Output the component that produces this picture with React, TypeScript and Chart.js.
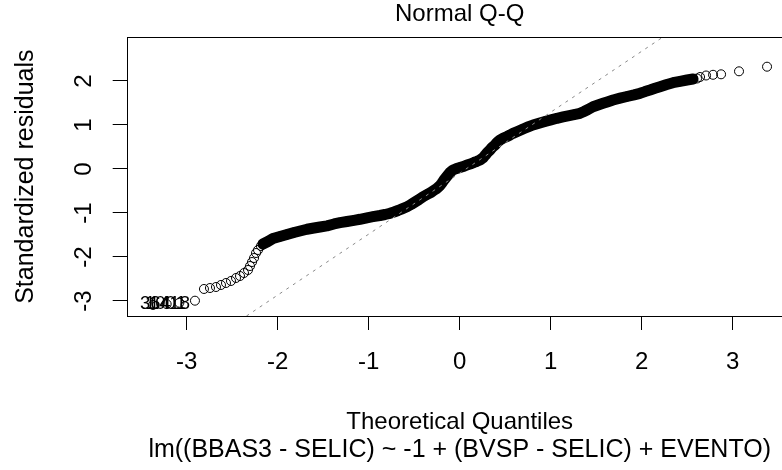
import React, { useEffect, useRef } from "react";
import { Chart, registerables } from "chart.js";

Chart.register(...registerables);

// ---- text ----
const chartTitle = "Normal Q-Q";
const xTitle = "Theoretical Quantiles";
const subTitle = "lm((BBAS3 - SELIC) ~ -1 + (BVSP - SELIC) + EVENTO)";
const yTitle = "Standardized residuals";

// ---- axes ----
const xTicks = [-3, -2, -1, 0, 1, 2, 3];
const xTickLabels = ["-3", "-2", "-1", "0", "1", "2", "3"];
const yTicks = [-3, -2, -1, 0, 1, 2];
const yTickLabels = ["-3", "-2", "-1", "0", "1", "2"];
const xRange = [-3.659, 3.659];
const yRange = [-3.341, 2.993];

// ---- individually visible points in the tails ----
const tailX = [
  -3.37, -3.22, -3.08, -2.909, -2.81, -2.744, -2.678, -2.623, -2.568, -2.513,
  -2.458, -2.414, -2.37, -2.326, -2.304, -2.282, -2.26, -2.238, -2.216, -2.184,
  2.608, 2.641, 2.707, 2.784, 2.872, 3.069, 3.377,
];
const tailY = [
  -3.09, -3.07, -3.04, -2.993, -2.727, -2.705, -2.682, -2.636, -2.591, -2.545,
  -2.477, -2.432, -2.364, -2.295, -2.205, -2.114, -2.023, -1.909, -1.841, -1.75,
  2.057, 2.091, 2.125, 2.141, 2.152, 2.22, 2.325,
];

// ---- dense central band of residuals ----
const bandX = [
  -2.162, -2.107, -2.052, -1.975, -1.898, -1.821, -1.755, -1.678, -1.601, -1.535,
  -1.458, -1.381, -1.315, -1.238, -1.162, -1.096, -1.019, -0.953, -0.876, -0.821,
  -0.766, -0.722, -0.678, -0.634, -0.579, -0.535, -0.491, -0.447, -0.403, -0.359,
  -0.315, -0.282, -0.249, -0.216, -0.195, -0.173, -0.151, -0.129, -0.107, -0.074,
  -0.041, 0.003, 0.047, 0.08, 0.124, 0.157, 0.19, 0.223, 0.256, 0.278,
  0.3, 0.333, 0.355, 0.388, 0.41, 0.443, 0.476, 0.52, 0.553, 0.586,
  0.641, 0.696, 0.751, 0.806, 0.871, 0.937, 1.003, 1.069, 1.135, 1.19,
  1.256, 1.322, 1.366, 1.41, 1.465, 1.52, 1.575, 1.63, 1.685, 1.762,
  1.838, 1.915, 1.981, 2.036, 2.091, 2.146, 2.201, 2.267, 2.344, 2.421,
  2.498, 2.564,
];
const bandY = [
  -1.705, -1.648, -1.58, -1.534, -1.489, -1.443, -1.409, -1.37, -1.341, -1.318,
  -1.291, -1.25, -1.22, -1.193, -1.166, -1.143, -1.109, -1.084, -1.057, -1.034,
  -1.007, -0.977, -0.943, -0.905, -0.857, -0.807, -0.75, -0.693, -0.63, -0.58,
  -0.53, -0.484, -0.439, -0.375, -0.318, -0.25, -0.193, -0.136, -0.08, -0.023,
  0.005, 0.034, 0.061, 0.091, 0.118, 0.148, 0.175, 0.205, 0.255, 0.307,
  0.364, 0.432, 0.489, 0.545, 0.602, 0.659, 0.698, 0.739, 0.773, 0.811,
  0.859, 0.909, 0.955, 1.0, 1.041, 1.08, 1.116, 1.152, 1.182, 1.205,
  1.234, 1.266, 1.307, 1.352, 1.416, 1.455, 1.493, 1.53, 1.568, 1.609,
  1.648, 1.684, 1.72, 1.759, 1.795, 1.834, 1.87, 1.916, 1.961, 1.993,
  2.023, 2.045,
];

// ---- reference (qqline) end points ----
const refLineX = [-2.343, 2.229];
const refLineY = [-3.341, 2.993];

// ---- labelled extreme observations ----
const idLabels = ["364", "1001", "1418"];
const idX = [-3.513, -3.458, -3.414];
const idY = [-3.07, -3.07, -3.07];

const FONT = '"Liberation Sans", Arial, Helvetica, sans-serif';
const FS = 24;

const toPts = (xs: number[], ys: number[]) => xs.map((x, i) => ({ x, y: ys[i] }));

const decor = {
  id: "decor",
  afterDraw(chart: any) {
    const { ctx, chartArea: a } = chart;
    const xs = chart.scales.x;
    const ys = chart.scales.y;
    ctx.save();
    ctx.strokeStyle = "#000";
    ctx.lineWidth = 1;
    ctx.strokeRect(
      Math.round(a.left) + 0.5,
      Math.round(a.top) + 0.5,
      Math.round(a.right - a.left),
      Math.round(a.bottom - a.top)
    );
    ctx.fillStyle = "#000";
    ctx.font = `${FS}px ${FONT}`;
    ctx.textAlign = "center";
    ctx.textBaseline = "alphabetic";
    const cx = (a.left + a.right) / 2;
    ctx.fillText(chartTitle, cx, a.top - 16);
    xTicks.forEach((v, i) => ctx.fillText(xTickLabels[i], xs.getPixelForValue(v), a.bottom + 53));
    yTicks.forEach((v, i) => {
      ctx.save();
      ctx.translate(a.left - 35.5, ys.getPixelForValue(v));
      ctx.rotate(-Math.PI / 2);
      ctx.fillText(yTickLabels[i], 0, 0);
      ctx.restore();
    });
    ctx.fillText(xTitle, cx, a.bottom + 112.5);
    ctx.font = `25px ${FONT}`;
    ctx.fillText(subTitle, cx, a.bottom + 141);
    ctx.save();
    ctx.translate(a.left - 93.7, (a.top + a.bottom) / 2);
    ctx.rotate(-Math.PI / 2);
    ctx.fillText(yTitle, 0, 0);
    ctx.restore();
    ctx.font = `18.5px ${FONT}`;
    ctx.textAlign = "left";
    ctx.textBaseline = "middle";
    idLabels.forEach((t, i) => ctx.fillText(t, xs.getPixelForValue(idX[i]), ys.getPixelForValue(idY[i])));
    ctx.restore();
  },
};

export default function App() {
  const ref = useRef<HTMLCanvasElement | null>(null);
  useEffect(() => {
    if (!ref.current) return;
    const pointStyle = {
      pointRadius: 4.5,
      pointBorderWidth: 1,
      pointBorderColor: "#000",
      pointBackgroundColor: "rgba(0,0,0,0)",
      pointStyle: "circle" as const,
    };
    const chart = new Chart(ref.current, {
      type: "scatter",
      data: {
        datasets: [
          {
            label: "qqline",
            data: toPts(refLineX, refLineY),
            showLine: true,
            borderColor: "#8a8a8a",
            borderWidth: 1,
            borderDash: [3, 5],
            pointRadius: 0,
          },
          {
            label: "band",
            data: toPts(bandX, bandY),
            showLine: true,
            borderColor: "#000",
            borderWidth: 11,
            borderCapStyle: "round",
            borderJoinStyle: "round",
            tension: 0,
            ...pointStyle,
          },
          {
            label: "tails",
            data: toPts(tailX, tailY),
            showLine: false,
            ...pointStyle,
          },
        ],
      },
      options: {
        animation: false,
        responsive: false,
        devicePixelRatio: 1,
        events: [],
        layout: { padding: { left: 116.7, right: 7.3, top: 37.3, bottom: 144 } },
        plugins: { legend: { display: false }, tooltip: { enabled: false }, title: { display: false } },
        scales: {
          x: {
            type: "linear",
            min: xRange[0],
            max: xRange[1],
            border: { display: false },
            grid: { drawOnChartArea: false, drawTicks: true, tickLength: 14, color: "#000", lineWidth: 1 },
            ticks: { display: false },
            afterBuildTicks: (s: any) => {
              s.ticks = xTicks.map((v) => ({ value: v }));
            },
            afterFit: (s: any) => {
              s.height = 10;
            },
          },
          y: {
            type: "linear",
            min: yRange[0],
            max: yRange[1],
            border: { display: false },
            grid: { drawOnChartArea: false, drawTicks: true, tickLength: 14, color: "#000", lineWidth: 1 },
            ticks: { display: false },
            afterBuildTicks: (s: any) => {
              s.ticks = yTicks.map((v) => ({ value: v }));
            },
            afterFit: (s: any) => {
              s.width = 10;
            },
          },
        },
      },
      plugins: [decor],
    });
    return () => chart.destroy();
  }, []);
  return (
    <div style={{ position: "fixed", left: 0, top: 0, width: 782, height: 470, overflow: "hidden", background: "#fff" }}>
      <canvas ref={ref} width={800} height={470} style={{ width: 800, height: 470, display: "block" }} />
    </div>
  );
}
